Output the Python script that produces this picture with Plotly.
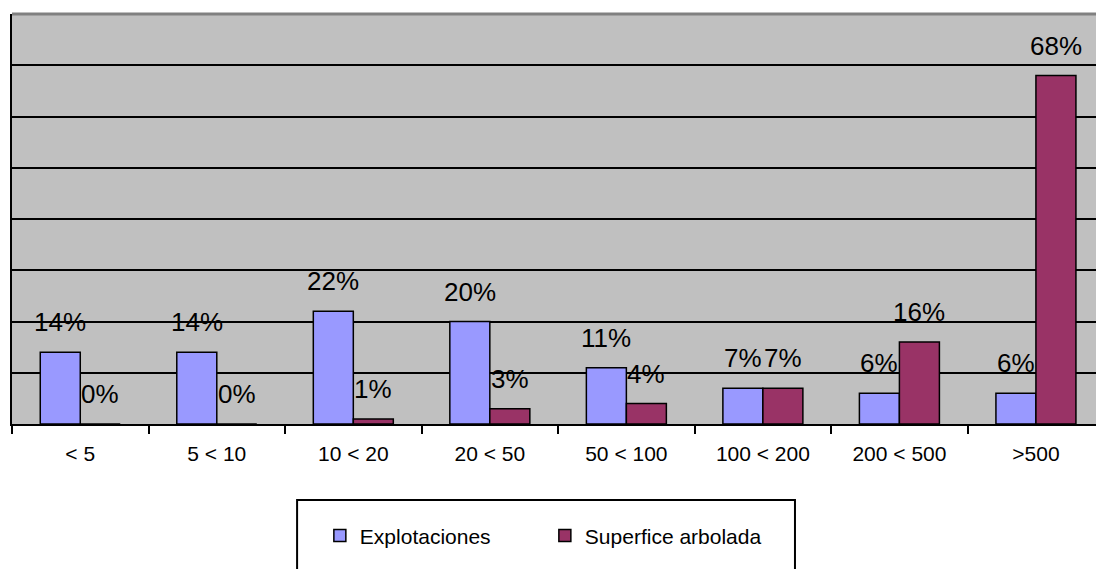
import plotly.graph_objects as go

categories = ["< 5", "5 < 10", "10 < 20", "20 < 50", "50 < 100", "100 < 200", "200 < 500", ">500"]
explotaciones = [14, 14, 22, 20, 11, 7, 6, 6]
superficie = [0, 0, 1, 3, 4, 7, 16, 68]
series_names = ["Explotaciones", "Superfice arbolada"]
colors = ["#9999FF", "#993366"]

FONT = "Liberation Sans, Arial, sans-serif"

fig = go.Figure()
for name, vals, col in zip(series_names, [explotaciones, superficie], colors):
    fig.add_trace(go.Bar(
        x=categories, y=vals, name=name,
        marker=dict(color=col, line=dict(color="black", width=1.5)),
        hoverinfo="skip",
    ))

annotations = []
for vals, shift in [(explotaciones, -20), (superficie, 20)]:
    for c, v in zip(categories, vals):
        annotations.append(dict(
            x=c, y=v, xref="x", yref="y", text=f"{v}%", showarrow=False,
            xshift=shift, yshift=13, yanchor="bottom", xanchor="center",
            font=dict(family=FONT, size=26, color="black"),
        ))

fig.update_layout(
    width=1096, height=569,
    margin=dict(l=12, r=0, t=14, b=145),
    paper_bgcolor="white",
    plot_bgcolor="#C0C0C0",
    barmode="group", bargap=0.414, bargroupgap=0,
    font=dict(family=FONT, color="black"),
    showlegend=True,
    legend=dict(
        orientation="h", x=0.284, xanchor="left", y=-0.273, yanchor="middle",
        font=dict(family=FONT, size=21, color="black"),
        bgcolor="rgba(0,0,0,0)", borderwidth=0,
        itemwidth=30, entrywidth=180, entrywidthmode="pixels",
    ),
    xaxis=dict(
        range=[-0.5, 7.44], showgrid=False, showline=True, linecolor="black", linewidth=2,
        ticks="outside", tickson="boundaries", ticklen=8, tickwidth=2, tickcolor="black",
        ticklabelstandoff=10,
        tickfont=dict(family=FONT, size=21, color="black"), fixedrange=True,
    ),
    yaxis=dict(
        range=[0, 80], dtick=10, showgrid=True, gridcolor="black", gridwidth=2,
        showticklabels=False, ticks="", showline=True, linecolor="black", linewidth=2,
        zeroline=False, fixedrange=True,
    ),
    annotations=annotations,
    shapes=[
        dict(type="line", xref="paper", yref="paper", x0=0, x1=1, y0=1, y1=1,
             line=dict(color="#808080", width=3)),
        dict(type="rect", xref="paper", yref="paper", x0=0.263, x1=0.7223, y0=-0.1854, y1=-0.6,
             line=dict(color="black", width=2), fillcolor="white", layer="below"),
    ],
)

fig.write_html("out.html", config={"displayModeBar": False},
               post_script="document.body.style.margin='0';")
